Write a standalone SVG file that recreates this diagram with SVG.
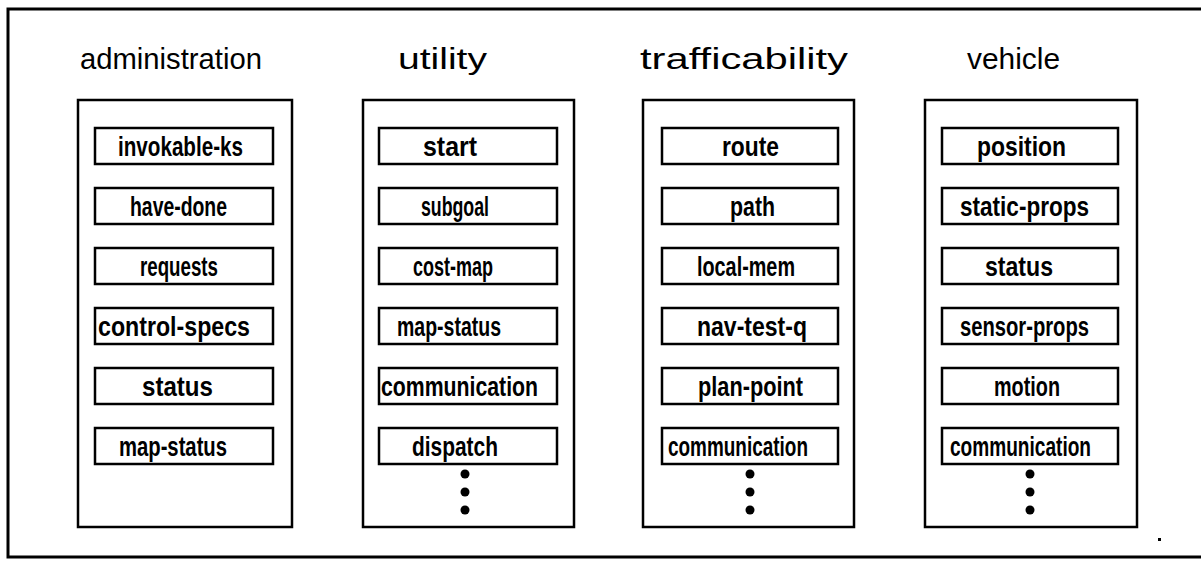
<svg xmlns="http://www.w3.org/2000/svg" width="1201" height="561" viewBox="0 0 1201 561">
<style>
.frame{fill:none;stroke:#000;stroke-width:3}
.col{fill:#fff;stroke:#000;stroke-width:2.5}
.item{fill:#fff;stroke:#000;stroke-width:2.5}
.title{font-family:"Liberation Sans",Arial,sans-serif;font-size:30px;fill:#000}
.lbl{font-family:"Liberation Sans",Arial,sans-serif;font-size:27px;font-weight:bold;fill:#000}
.dot{fill:#000}
</style>
<rect x="0" y="0" width="1201" height="561" fill="#fff"/>
<path class="frame" d="M1201,9 L8,9 L8,557 L1201,557"/>
<rect x="1158" y="538" width="3" height="3" fill="#000"/>

<g id="administration">
<text class="title" x="80" y="69" textLength="182" lengthAdjust="spacingAndGlyphs">administration</text>
<rect class="col" x="78" y="100" width="214" height="427"/>
<rect class="item" x="95" y="128" width="178" height="36"/>
<text class="lbl" x="118" y="156" textLength="125" lengthAdjust="spacingAndGlyphs">invokable-ks</text>
<rect class="item" x="95" y="188" width="178" height="36"/>
<text class="lbl" x="130" y="216" textLength="97" lengthAdjust="spacingAndGlyphs">have-done</text>
<rect class="item" x="95" y="248" width="178" height="36"/>
<text class="lbl" x="140" y="276" textLength="78" lengthAdjust="spacingAndGlyphs">requests</text>
<rect class="item" x="95" y="308" width="178" height="36"/>
<text class="lbl" x="98" y="336" textLength="152" lengthAdjust="spacingAndGlyphs">control-specs</text>
<rect class="item" x="95" y="368" width="178" height="36"/>
<text class="lbl" x="142" y="396" textLength="71" lengthAdjust="spacingAndGlyphs">status</text>
<rect class="item" x="95" y="428" width="178" height="36"/>
<text class="lbl" x="119" y="456" textLength="108" lengthAdjust="spacingAndGlyphs">map-status</text>
</g>

<g id="utility">
<text class="title" x="398" y="69" textLength="89" lengthAdjust="spacingAndGlyphs">utility</text>
<rect class="col" x="363" y="100" width="211" height="427"/>
<rect class="item" x="379" y="128" width="178" height="36"/>
<text class="lbl" x="423" y="156" textLength="54" lengthAdjust="spacingAndGlyphs">start</text>
<rect class="item" x="379" y="188" width="178" height="36"/>
<text class="lbl" x="421" y="216" textLength="68" lengthAdjust="spacingAndGlyphs">subgoal</text>
<rect class="item" x="379" y="248" width="178" height="36"/>
<text class="lbl" x="413" y="276" textLength="80" lengthAdjust="spacingAndGlyphs">cost-map</text>
<rect class="item" x="379" y="308" width="178" height="36"/>
<text class="lbl" x="397" y="336" textLength="104" lengthAdjust="spacingAndGlyphs">map-status</text>
<rect class="item" x="379" y="368" width="178" height="36"/>
<text class="lbl" x="381" y="396" textLength="157" lengthAdjust="spacingAndGlyphs">communication</text>
<rect class="item" x="379" y="428" width="178" height="36"/>
<text class="lbl" x="412" y="456" textLength="86" lengthAdjust="spacingAndGlyphs">dispatch</text>
<circle class="dot" cx="465" cy="474" r="4.5"/>
<circle class="dot" cx="465" cy="492" r="4.5"/>
<circle class="dot" cx="465" cy="510" r="4.5"/>
</g>

<g id="trafficability">
<text class="title" x="640" y="69" textLength="208" lengthAdjust="spacingAndGlyphs">trafficability</text>
<rect class="col" x="643" y="100" width="211" height="427"/>
<rect class="item" x="662" y="128" width="176" height="36"/>
<text class="lbl" x="722" y="156" textLength="57" lengthAdjust="spacingAndGlyphs">route</text>
<rect class="item" x="662" y="188" width="176" height="36"/>
<text class="lbl" x="730" y="216" textLength="45" lengthAdjust="spacingAndGlyphs">path</text>
<rect class="item" x="662" y="248" width="176" height="36"/>
<text class="lbl" x="697" y="276" textLength="98" lengthAdjust="spacingAndGlyphs">local-mem</text>
<rect class="item" x="662" y="308" width="176" height="36"/>
<text class="lbl" x="697" y="336" textLength="110" lengthAdjust="spacingAndGlyphs">nav-test-q</text>
<rect class="item" x="662" y="368" width="176" height="36"/>
<text class="lbl" x="698" y="396" textLength="105" lengthAdjust="spacingAndGlyphs">plan-point</text>
<rect class="item" x="662" y="428" width="176" height="36"/>
<text class="lbl" x="668" y="456" textLength="140" lengthAdjust="spacingAndGlyphs">communication</text>
<circle class="dot" cx="750" cy="474" r="4.5"/>
<circle class="dot" cx="750" cy="492" r="4.5"/>
<circle class="dot" cx="750" cy="510" r="4.5"/>
</g>

<g id="vehicle">
<text class="title" x="967" y="69" textLength="93" lengthAdjust="spacingAndGlyphs">vehicle</text>
<rect class="col" x="925" y="100" width="212" height="427"/>
<rect class="item" x="942" y="128" width="176" height="36"/>
<text class="lbl" x="977" y="156" textLength="89" lengthAdjust="spacingAndGlyphs">position</text>
<rect class="item" x="942" y="188" width="176" height="36"/>
<text class="lbl" x="960" y="216" textLength="129" lengthAdjust="spacingAndGlyphs">static-props</text>
<rect class="item" x="942" y="248" width="176" height="36"/>
<text class="lbl" x="985" y="276" textLength="68" lengthAdjust="spacingAndGlyphs">status</text>
<rect class="item" x="942" y="308" width="176" height="36"/>
<text class="lbl" x="960" y="336" textLength="129" lengthAdjust="spacingAndGlyphs">sensor-props</text>
<rect class="item" x="942" y="368" width="176" height="36"/>
<text class="lbl" x="994" y="396" textLength="66" lengthAdjust="spacingAndGlyphs">motion</text>
<rect class="item" x="942" y="428" width="176" height="36"/>
<text class="lbl" x="950" y="456" textLength="141" lengthAdjust="spacingAndGlyphs">communication</text>
<circle class="dot" cx="1030" cy="474" r="4.5"/>
<circle class="dot" cx="1030" cy="492" r="4.5"/>
<circle class="dot" cx="1030" cy="510" r="4.5"/>
</g>
</svg>
